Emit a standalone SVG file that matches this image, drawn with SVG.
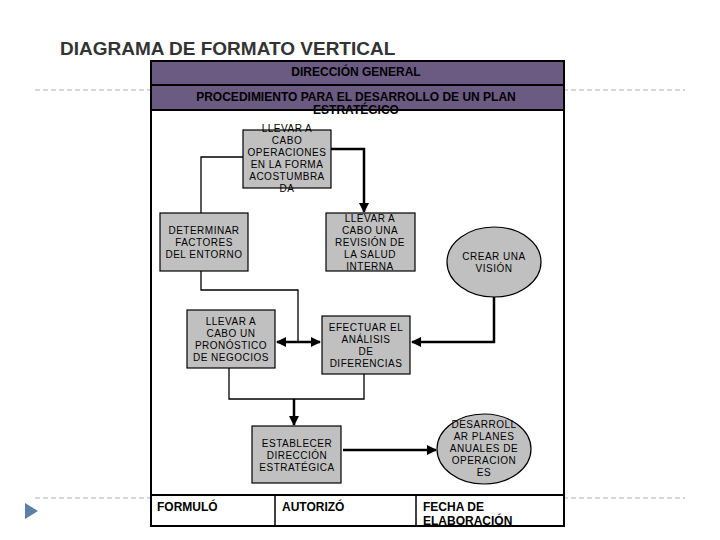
<svg xmlns="http://www.w3.org/2000/svg" width="720" height="540" viewBox="0 0 720 540">
<style>
.b{fill:#c0c0c0;stroke:#000;stroke-width:1.2}
.t{font-family:"Liberation Sans",Arial,sans-serif;font-size:10px;fill:#000;text-anchor:middle;letter-spacing:0.5px}
.h{font-family:"Liberation Sans",Arial,sans-serif;font-size:12px;font-weight:bold;fill:#000;text-anchor:middle}
.f{font-family:"Liberation Sans",Arial,sans-serif;font-size:12px;font-weight:bold;fill:#000}
.c{fill:none;stroke:#000;stroke-width:1.3}
.a{fill:none;stroke:#000;stroke-width:2.5}
</style>
<defs>
<marker id="ar" viewBox="0 0 10 10" refX="9" refY="5" markerWidth="4" markerHeight="4" orient="auto-start-reverse"><path d="M0,0L10,5L0,10z" fill="#000"/></marker>
</defs>
<rect width="720" height="540" fill="#fff"/>
<line x1="35" y1="90" x2="685" y2="90" stroke="#aaa" stroke-dasharray="5,3"/>
<line x1="35" y1="498" x2="685" y2="498" stroke="#aaa" stroke-dasharray="5,3"/>
<path d="M25,503L38,511L25,519z" fill="#5b7fa6"/>
<text x="60" y="55" font-family="Liberation Sans,Arial,sans-serif" font-size="19" font-weight="bold" fill="#333">DIAGRAMA DE FORMATO VERTICAL</text>
<g id="frame">
<rect x="151" y="61" width="413" height="465" fill="#fff" stroke="#000" stroke-width="2"/>
<rect x="151" y="61" width="413" height="24" fill="#6b5a82" stroke="#000" stroke-width="2"/>
<rect x="151" y="85" width="413" height="25" fill="#6b5a82" stroke="#000" stroke-width="2"/>
<text class="h" x="356" y="76">DIRECCIÓN GENERAL</text>
<text class="h" x="356" y="101">PROCEDIMIENTO PARA EL DESARROLLO DE UN PLAN</text>
<text class="h" x="356" y="114">ESTRATÉGICO</text>
<line x1="151" y1="495" x2="564" y2="495" stroke="#000" stroke-width="2"/>
<line x1="275" y1="495" x2="275" y2="526" stroke="#000" stroke-width="1.5"/>
<line x1="416" y1="495" x2="416" y2="526" stroke="#000" stroke-width="1.5"/>
<text class="f" x="157" y="511">FORMULÓ</text>
<text class="f" x="282" y="511">AUTORIZÓ</text>
<text class="f" x="423" y="511">FECHA DE</text>
<text class="f" x="423" y="525">ELABORACIÓN</text>
</g>
<g id="connectors">
<polyline class="c" points="243,157 201,157 201,213"/>
<polyline class="a" points="331,149 364,149 364,212" marker-end="url(#ar)"/>
<polyline class="c" points="201,271 201,290 298,290 298,342"/>
<line class="a" x1="277" y1="342" x2="320" y2="342" marker-start="url(#ar)" marker-end="url(#ar)"/>
<polyline class="a" points="494,297 494,342 412,342" marker-end="url(#ar)"/>
<polyline class="c" points="229,368 229,399 364,399 364,374"/>
<line class="a" x1="294" y1="399" x2="294" y2="425" marker-end="url(#ar)"/>
<line class="a" x1="343" y1="450" x2="436" y2="450" marker-end="url(#ar)"/>
</g>
<g id="n1"><rect class="b" x="243" y="130" width="88" height="58"/>
<text class="t" x="287" y="132">LLEVAR A</text><text class="t" x="287" y="144">CABO</text><text class="t" x="287" y="156">OPERACIONES</text><text class="t" x="287" y="168">EN LA FORMA</text><text class="t" x="287" y="180">ACOSTUMBRA</text><text class="t" x="287" y="192">DA</text></g>
<g id="n2"><rect class="b" x="160" y="213" width="88" height="58"/>
<text class="t" x="204" y="234">DETERMINAR</text><text class="t" x="204" y="246">FACTORES</text><text class="t" x="204" y="258">DEL ENTORNO</text></g>
<g id="n3"><rect class="b" x="326" y="213" width="89" height="58"/>
<text class="t" x="370" y="222">LLEVAR A</text><text class="t" x="370" y="234">CABO UNA</text><text class="t" x="370" y="246">REVISIÓN DE</text><text class="t" x="370" y="258">LA SALUD</text><text class="t" x="370" y="270">INTERNA</text></g>
<g id="n4"><ellipse class="b" cx="494" cy="262" rx="47" ry="35"/>
<text class="t" x="494" y="260">CREAR UNA</text><text class="t" x="494" y="272">VISIÓN</text></g>
<g id="n5"><rect class="b" x="187" y="310" width="88" height="58"/>
<text class="t" x="231" y="325">LLEVAR A</text><text class="t" x="231" y="337">CABO UN</text><text class="t" x="231" y="349">PRONÓSTICO</text><text class="t" x="231" y="361">DE NEGOCIOS</text></g>
<g id="n6"><rect class="b" x="322" y="316" width="88" height="58"/>
<text class="t" x="366" y="331">EFECTUAR EL</text><text class="t" x="366" y="343">ANÁLISIS</text><text class="t" x="366" y="355">DE</text><text class="t" x="366" y="367">DIFERENCIAS</text></g>
<g id="n7"><rect class="b" x="252" y="426" width="89" height="57"/>
<text class="t" x="297" y="447">ESTABLECER</text><text class="t" x="297" y="459">DIRECCIÓN</text><text class="t" x="297" y="471">ESTRATÉGICA</text></g>
<g id="n8"><ellipse class="b" cx="484" cy="449" rx="47" ry="35"/>
<text class="t" x="484" y="428">DESARROLL</text><text class="t" x="484" y="440">AR PLANES</text><text class="t" x="484" y="452">ANUALES DE</text><text class="t" x="484" y="464">OPERACION</text><text class="t" x="484" y="476">ES</text></g>
</svg>
